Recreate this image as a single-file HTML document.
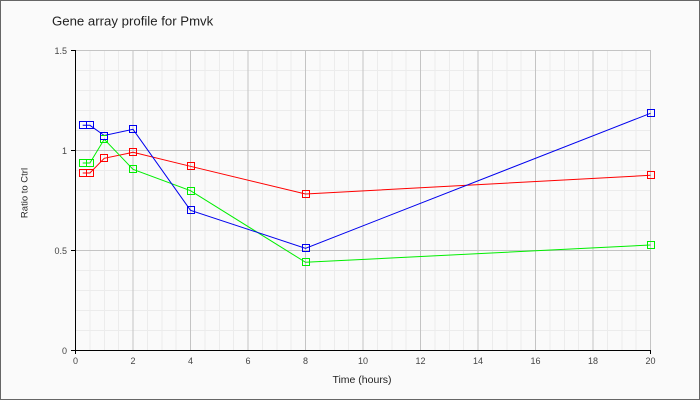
<!DOCTYPE html>
<html><head><meta charset="utf-8"><style>
html,body{margin:0;padding:0;background:#fafafa;}
svg{display:block;font-family:"Liberation Sans",Arial,sans-serif;}
</style></head><body>
<svg width="700" height="400" viewBox="0 0 700 400" xmlns="http://www.w3.org/2000/svg">
<rect x="0" y="0" width="700" height="400" fill="#fafafa"/>
<g stroke="#ececec" stroke-width="1" shape-rendering="crispEdges">
<path d="M89.9 50V350M104.25 50V350M118.6 50V350M147.4 50V350M161.75 50V350M176.1 50V350M204.9 50V350M219.25 50V350M233.6 50V350M262.4 50V350M276.75 50V350M291.1 50V350M319.9 50V350M334.25 50V350M348.6 50V350M377.4 50V350M391.75 50V350M406.1 50V350M434.9 50V350M449.25 50V350M463.6 50V350M492.4 50V350M506.75 50V350M521.1 50V350M549.9 50V350M564.25 50V350M578.6 50V350M607.4 50V350M621.75 50V350M636.1 50V350"/>
<path d="M75 70.5H650M75 90.5H650M75 110.5H650M75 130.5H650M75 170.5H650M75 190.5H650M75 210.5H650M75 230.5H650M75 270.5H650M75 290.5H650M75 310.5H650M75 330.5H650"/>
</g>
<g stroke="#c4c4c4" stroke-width="1" shape-rendering="crispEdges">
<path d="M133 50V350M190.5 50V350M248 50V350M305.5 50V350M363 50V350M420.5 50V350M478 50V350M535.5 50V350M593 50V350M650.5 50V350"/>
<path d="M75 50.5H651M75 150.5H651M75 250.5H651"/>
</g>
<g stroke="#000" stroke-width="1" fill="none" shape-rendering="crispEdges">
<path d="M75.5 50V354M71 350.5H651M650.5 350V354M71 50.5H75M71 150.5H75M71 250.5H75"/>
</g>
<g font-size="9" fill="#444" text-anchor="middle">
<text x="75.5" y="364">0</text><text x="133" y="364">2</text><text x="190.5" y="364">4</text><text x="248" y="364">6</text><text x="305.5" y="364">8</text><text x="363" y="364">10</text><text x="420.5" y="364">12</text><text x="478" y="364">14</text><text x="535.5" y="364">16</text><text x="593" y="364">18</text><text x="650.5" y="364">20</text>
</g>
<g font-size="9" fill="#444" text-anchor="end">
<text x="67" y="54">1.5</text><text x="67" y="154">1</text><text x="67" y="254">0.5</text><text x="67" y="354">0</text>
</g>
<text x="52" y="25.5" font-size="13.2" fill="#222">Gene array profile for Pmvk</text>
<text x="362" y="383" font-size="10.5" fill="#222" text-anchor="middle">Time (hours)</text>
<text transform="translate(27.5,193) rotate(-90)" font-size="9.5" fill="#222" text-anchor="middle">Ratio to Ctrl</text>
<g fill="none" stroke-width="1">
<polyline stroke="#ff0000" points="82.7,173 89.9,173 104.25,158.3 133,152.3 190.5,166.3 305.5,194 650.5,175.3"/>
<polyline stroke="#00ee00" points="82.7,163 89.9,163 104.25,139.3 133,169.3 190.5,190.7 305.5,262.3 650.5,245"/>
<polyline stroke="#0000ee" points="82.7,125.3 89.9,125.3 104.25,135.5 133,129.3 190.5,210.3 305.5,248.3 650.5,113.3"/>
</g>
<g fill="none" stroke-width="1" shape-rendering="crispEdges">
<g stroke="#ff0000">
<rect x="79.5" y="169.5" width="7" height="7"/><rect x="86.5" y="169.5" width="7" height="7"/><rect x="100.5" y="154.5" width="7" height="7"/><rect x="129.5" y="148.5" width="7" height="7"/><rect x="187.5" y="162.5" width="7" height="7"/><rect x="302.5" y="190.5" width="7" height="7"/><rect x="647.5" y="171.5" width="7" height="7"/>
</g>
<g stroke="#00ee00">
<rect x="79.5" y="159.5" width="7" height="7"/><rect x="86.5" y="159.5" width="7" height="7"/><rect x="100.5" y="135.5" width="7" height="7"/><rect x="129.5" y="165.5" width="7" height="7"/><rect x="187.5" y="187.5" width="7" height="7"/><rect x="302.5" y="258.5" width="7" height="7"/><rect x="647.5" y="241.5" width="7" height="7"/>
</g>
<g stroke="#0000ee">
<rect x="79.5" y="121.5" width="7" height="7"/><rect x="86.5" y="121.5" width="7" height="7"/><rect x="100.5" y="132.5" width="7" height="7"/><rect x="129.5" y="125.5" width="7" height="7"/><rect x="187.5" y="206.5" width="7" height="7"/><rect x="302.5" y="244.5" width="7" height="7"/><rect x="647.5" y="109.5" width="7" height="7"/>
</g>
</g>
<rect x="0.5" y="0.5" width="699" height="399" fill="none" stroke="#666" stroke-width="1" shape-rendering="crispEdges"/>
</svg>
</body></html>
